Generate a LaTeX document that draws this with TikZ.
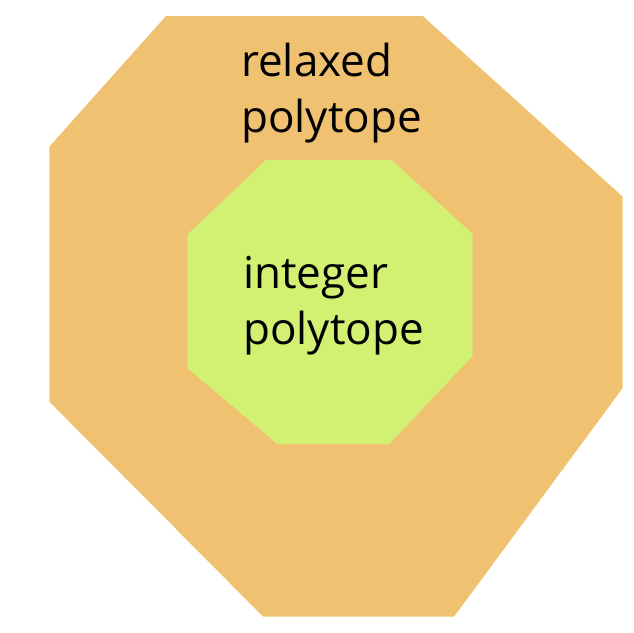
\documentclass[tikz,border=0pt]{standalone}
\usepackage{fontspec}
\setmainfont{Open Sans}
\definecolor{relaxedfill}{RGB}{240,193,112}
\definecolor{integerfill}{RGB}{210,240,114}
\begin{document}
\begin{tikzpicture}[x=1pt,y=-1pt,
  polylabel/.style={anchor=base west,inner sep=0pt,align=left,font=\fontsize{44}{56}\selectfont}]
\useasboundingbox (0,0) rectangle (634,632);
\fill[relaxedfill] (166,16) -- (422.7,16) -- (622.7,196.7) -- (622.7,388) -- (454,616.7) -- (263.3,616.7) -- (49.3,401.7) -- (49.3,146.7) -- cycle;
\fill[integerfill] (266,160) -- (391.7,160) -- (472.7,234) -- (472.7,356) -- (389.3,444) -- (277.3,444) -- (187.7,368.3) -- (187.7,234.3) -- cycle;
\node[polylabel] (relaxed) at (241,132.7) {relaxed\\polytope};
\node[polylabel] (integer) at (243,344) {integer\\polytope};
\end{tikzpicture}
\end{document}
